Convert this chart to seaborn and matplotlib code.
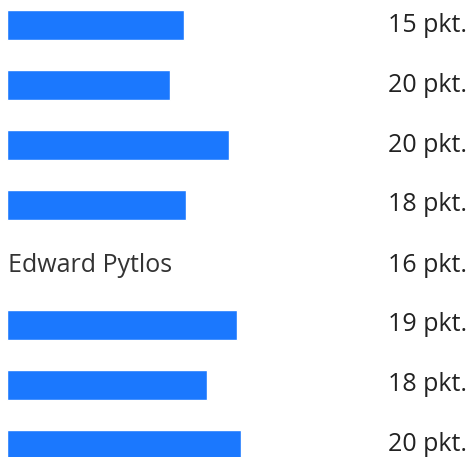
import matplotlib
matplotlib.use("Agg")
import matplotlib.pyplot as plt
import seaborn as sns
import pandas as pd

# Data
rows = ["1", "2", "3", "4", "5", "6", "7", "8"]
names = [None, None, None, None, "Edward Pytlos", None, None, None]   # None = redacted
redaction_len = [177, 163, 222, 179, 0, 230, 200, 234]                 # length of blue redaction bar
points = [15, 20, 20, 18, 16, 19, 18, 20]
point_labels = [f"{p} pkt." for p in points]

df = pd.DataFrame({"row": rows, "redaction": redaction_len})

sns.set_theme(style="white")
plt.rcParams["font.family"] = ["Open Sans", "DejaVu Sans"]

fig = plt.figure(figsize=(4.71, 4.57), dpi=100)
ax = fig.add_axes([0, 0, 1, 1])

sns.barplot(data=df, x="redaction", y="row", orient="h", color="#1b78fe",
            width=0.5, saturation=1, ax=ax)

ax.set_xlim(-7, 464)
ax.set_ylim(7.2, -25 / 60)
ax.axis("off")

for i, (nm, lab) in enumerate(zip(names, point_labels)):
    if nm is not None:
        ax.text(1, i, nm, ha="left", va="center", fontsize=18, color="#333333")
    ax.text(460, i, lab, ha="right", va="center", fontsize=18, color="#222222")

fig.savefig("out.png", dpi=100)
